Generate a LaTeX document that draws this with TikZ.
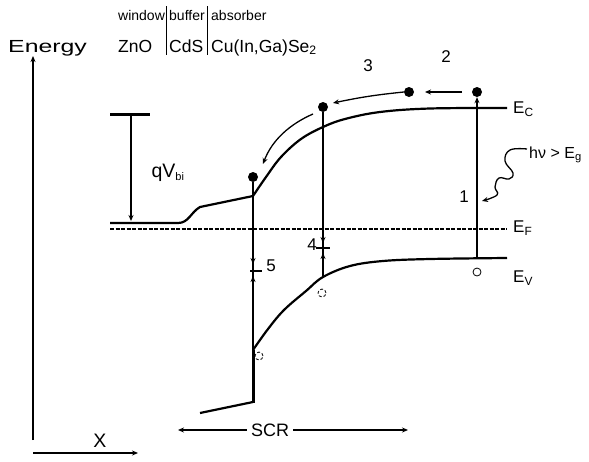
\documentclass[tikz,border=0pt]{standalone}
\usepackage{fontspec}
\usepackage{graphicx}
\setmainfont{Liberation Sans}
\usetikzlibrary{arrows.meta}
\begin{document}
\begin{tikzpicture}[x=1pt,y=-1pt,
  big/.style={font=\fontsize{19.5}{20}\selectfont, inner sep=0pt},
  head/.style={font=\fontsize{17.5}{18}\selectfont, inner sep=0pt},
  small/.style={font=\fontsize{14}{14}\selectfont, inner sep=0pt},
  num/.style={font=\fontsize{17}{17}\selectfont, inner sep=0pt},
  lev/.style={font=\fontsize{17}{17}\selectfont, inner sep=0pt, anchor=west},
  band/.style={line width=2.2pt},
  vline/.style={line width=1.3pt},
  dot/.style={circle, fill=black, inner sep=0pt, minimum size=10pt},
  hole/.style={circle, draw, inner sep=0pt, minimum size=8pt, line width=0.8pt},
  arr/.style={-{Stealth[length=6pt,width=5pt]}},
]
\useasboundingbox (0,0) rectangle (589,461);

% axes
\coordinate (ybot) at (33,440);
\coordinate (ytop) at (33,56);
\coordinate (xl) at (33,453);
\coordinate (xr) at (138,453);
\draw[line width=1.3pt, arr] (ybot) -- (ytop);
\draw[line width=1.3pt, arr] (xl) -- (xr);
\node[head, anchor=base west] (energy) at (8,52) {\scalebox{1.42}[1]{Energy}};
\node[big] (xlab) at (100,441) {X};

% header
\node[small, anchor=base west] (win) at (118,20) {window};
\node[small, anchor=base west] (buf) at (169,20) {buffer};
\node[small, anchor=base west] (abs) at (211,20) {absorber};
\node[head, anchor=base west] (zno) at (118,52) {ZnO};
\node[head, anchor=base west] (cds) at (169,52) {CdS};
\node[head, anchor=base west] (cigs) at (211,52) {Cu(In,Ga)Se\textsubscript{2}};
\draw[line width=1pt] (166,6) -- (166,55);
\draw[line width=1pt] (207,6) -- (207,55);

% qV_bi
\coordinate (qt1) at (110,114);
\coordinate (qt2) at (150,114);
\coordinate (qa) at (131,114);
\coordinate (qb) at (131,221);
\draw[line width=3pt] (qt1) -- (qt2);
\draw[line width=1.3pt, arr] (qa) -- (qb);
\node[big] (qvbi) at (168,173) {qV\textsubscript{\fontsize{11}{11}\selectfont bi}};

% conduction band
\draw[band] (110,223) -- (178,223) to[out=0,in=210] (200,207) -- (253,196)
  plot[smooth, tension=0.6] coordinates {(253,196) (266,177) (281,157) (301,139) (323,127) (345,119) (380,112) (430,108.5) (507,108)};

% Fermi level
\draw[line width=2pt, dash pattern=on 4pt off 1.5pt] (110,229) -- (507,229);

% valence band
\draw[band] (200,413) -- (253,402);
\draw[line width=3pt] (253,403) -- (253,350);
\draw[band] plot[smooth, tension=0.6] coordinates {(253,350) (268,329) (284,310) (306,291) (323,277) (350,266) (383,261) (430,259) (507,258)};

% level labels
\node[lev] (ec) at (513,109) {E\textsubscript{C}};
\node[lev] (ef) at (513,228) {E\textsubscript{F}};
\node[lev] (ev) at (513,278) {E\textsubscript{V}};

% electrons
\node[dot] (e1) at (253,177) {};
\node[dot] (e2) at (323,107) {};
\node[dot] (e3) at (409,92) {};
\node[dot] (e4) at (477,92) {};

% holes
\node[hole] (h1) at (477,272) {};
\node[hole, densely dashed] (h2) at (322,293) {};
\node[hole, densely dashed] (h3) at (259,356) {};

% process 1: generation
\coordinate (g1) at (477,258);
\draw[vline, arr] (g1) -- (e4.south);
\node[num] (n1) at (464,197) {1};
\draw[line width=1.3pt, arr] plot[smooth, tension=0.7] coordinates {(527,149) (510,150) (505,161) (513,173) (509,179) (499,178) (495,187) (497,195) (482,201)};
\node[font=\fontsize{16}{16}\selectfont, inner sep=0pt, anchor=west] (hv) at (529,155) {hν > E\textsubscript{g}};

% process 2 and 3: drift
\draw[line width=1.3pt, arr] (462,92) -- (425,92);
\node[num] (n2) at (446,57) {2};
\draw[line width=1.3pt, arr] (e3.west) to[bend right=3] (333,103);
\node[num] (n3) at (368,66) {3};
\draw[line width=1.3pt, arr] (313,114) .. controls (290,124) and (272,140) .. (263,164);

% process 4: recombination in SCR
\coordinate (v4) at (323,277);
\draw[vline] (e2.south) -- (v4);
\draw[vline, arr] (e2.south) -- (323,243);
\draw[vline, arr] (v4) -- (323,253);
\draw[line width=2pt] (316,248) -- (330,248);
\node[num] (n4) at (312,245) {4};

% process 5: interface recombination
\coordinate (v5) at (253,350);
\draw[vline] (e1.south) -- (v5);
\draw[vline, arr] (e1.south) -- (253,264);
\draw[vline, arr] (v5) -- (253,276);
\draw[line width=2pt] (250,271) -- (262,271);
\node[num] (n5) at (271,266) {5};

% SCR
\node[font=\fontsize{18}{18}\selectfont, inner sep=0pt] (scr) at (270,430) {SCR};
\coordinate (scrl) at (178,430);
\coordinate (scrr) at (408,430);
\draw[line width=1.3pt, arr] (scr.west) ++(-4,0) -- (scrl);
\draw[line width=1.3pt, arr] (scr.east) ++(4,0) -- (scrr);
\end{tikzpicture}
\end{document}
